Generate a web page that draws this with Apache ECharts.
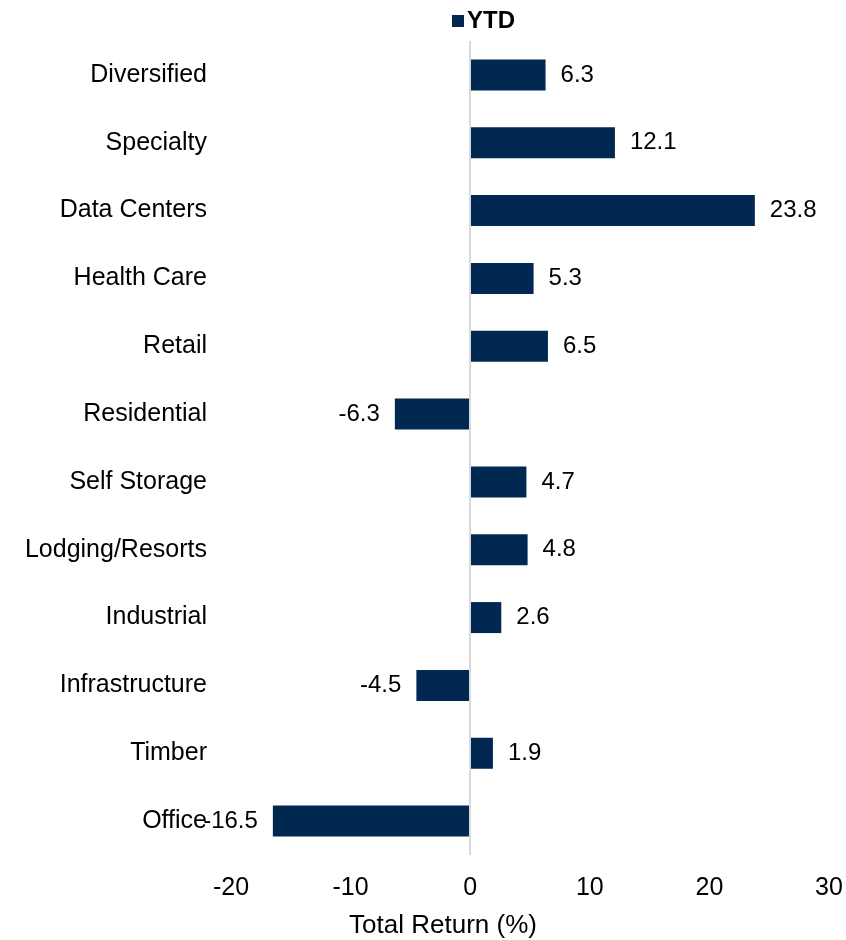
<!DOCTYPE html>
<html>
<head>
<meta charset="utf-8">
<script src="https://cdn.jsdelivr.net/npm/echarts@6/dist/echarts.min.js"></script>
<style>
  html, body { margin: 0; padding: 0; background: #fff; }
  #chart { width: 846px; height: 940px; }
</style>
</head>
<body>
<div id="chart"></div>
<script>
const categories = ['Diversified', 'Specialty', 'Data Centers', 'Health Care', 'Retail', 'Residential',
  'Self Storage', 'Lodging/Resorts', 'Industrial', 'Infrastructure', 'Timber', 'Office'];
const ytdValues = [6.3, 12.1, 23.8, 5.3, 6.5, -6.3, 4.7, 4.8, 2.6, -4.5, 1.9, -16.5];
const xTicks = [-20, 30, 10]; // min, max, interval

const font = 'Liberation Sans, Arial, sans-serif';
const barColor = '#002850';

let chart = echarts.init(document.getElementById('chart'), null, { renderer: 'canvas' });

let option = {
  backgroundColor: '#fff',
  textStyle: { fontFamily: font },
  legend: {
    data: ['YTD'],
    left: 447,
    top: 4,
    icon: 'rect',
    itemWidth: 12,
    itemHeight: 12,
    itemGap: 6,
    textStyle: { fontFamily: font, fontSize: 24, fontWeight: 'bold', color: '#000', padding: [0, 0, 0, -2] }
  },
  grid: { left: 231, right: 17, top: 41, bottom: 85, containLabel: false, outerBoundsMode: 'none' },
  xAxis: {
    type: 'value',
    min: xTicks[0],
    max: xTicks[1],
    interval: xTicks[2],
    name: 'Total Return (%)',
    nameLocation: 'middle',
    nameGap: 58,
    // name sits left of the plot centre in the original
    nameTextStyle: { fontFamily: font, fontSize: 26, color: '#000', padding: [0, 174, 0, 0] },
    axisLine: { show: false },
    axisTick: { show: false },
    splitLine: { show: false },
    axisLabel: { fontFamily: font, fontSize: 25, color: '#000', margin: 21 }
  },
  yAxis: {
    type: 'category',
    data: categories,
    inverse: true,
    axisLine: { show: false, onZero: false },
    axisTick: { show: false },
    axisLabel: { fontFamily: font, fontSize: 25, color: '#000', margin: 24 }
  },
  series: [{
    name: 'YTD',
    type: 'bar',
    barWidth: 31,
    itemStyle: { color: barColor },
    data: ytdValues.map(v => ({
      value: v,
      label: { position: v < 0 ? 'left' : 'right' }
    })),
    label: {
      show: true,
      distance: 15,
      fontFamily: font,
      fontSize: 24,
      color: '#000',
      formatter: p => p.value.toFixed(1)
    },
    markLine: {
      silent: true,
      symbol: 'none',
      label: { show: false },
      lineStyle: { color: '#d9d9d9', width: 2, type: 'solid' },
      data: [{ xAxis: 0 }]
    }
  }]
};

chart.setOption(option);
</script>
</body>
</html>
